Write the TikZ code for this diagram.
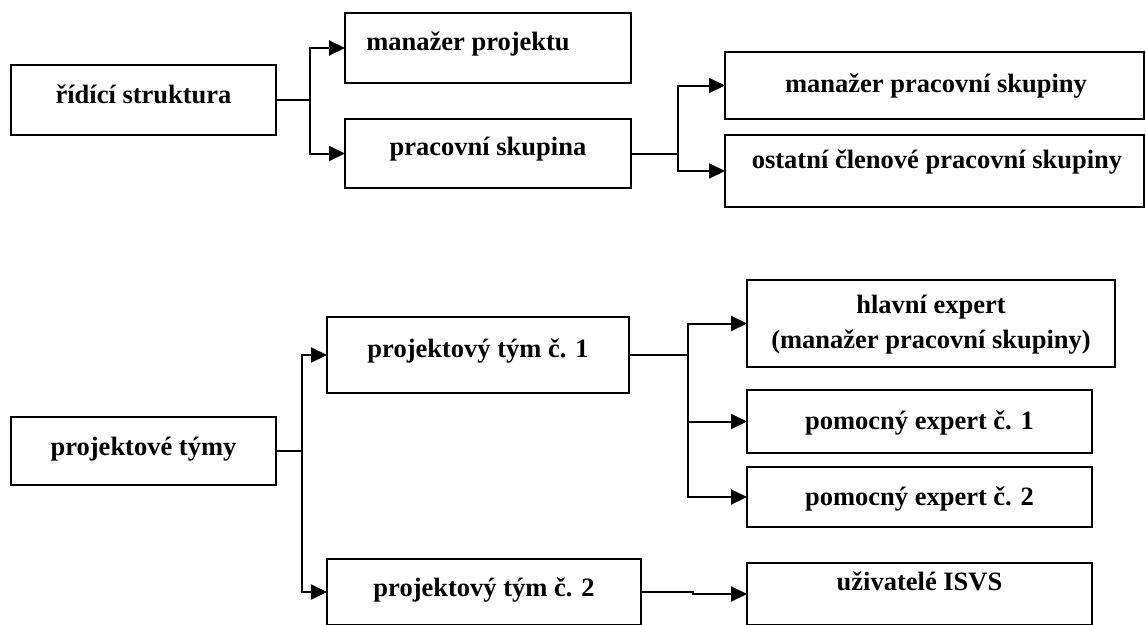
\documentclass[tikz,border=0pt]{standalone}
\usepackage{fontspec}
\setmainfont{Liberation Serif}
\usetikzlibrary{arrows.meta}
\begin{document}
\begin{tikzpicture}[x=1pt,y=-1pt,
  box/.style={draw=black, line width=2pt, inner sep=0pt, outer sep=0pt, rectangle},
  lbl/.style={inner sep=0pt, font=\bfseries\fontsize{26.5}{35}\selectfont, align=center, anchor=base},
  conn/.style={line width=2pt},
  arr/.style={conn, -{Triangle[length=16pt,width=15pt]}}]
\useasboundingbox (0,0) rectangle (1146,624);
\clip (0,0) rectangle (1146,624);

% upper tree: steering structure
\node[box, minimum width=265pt, minimum height=70pt] (ridici) at (143.5,100) {};
\node[box, minimum width=286pt, minimum height=70pt] (manproj) at (488,48) {};
\node[box, minimum width=286pt, minimum height=69pt] (pracsk) at (488,153.5) {};
\node[box, minimum width=419pt, minimum height=67pt] (manprac) at (934.5,85.5) {};
\node[box, minimum width=419pt, minimum height=72pt] (ostatni) at (934.5,171) {};

\node[lbl] (tridici) at (143.5,103) {řídící struktura};
\node[lbl] (tmanproj) at (468,50) {manažer projektu};
\node[lbl] (tpracsk) at (488,155) {pracovní skupina};
\node[lbl] (tmanprac) at (936,92) {manažer pracovní skupiny};
\node[lbl] (tostatni) at (937,168) {ostatní členové pracovní skupiny};

\coordinate (s1) at (310,100);
\coordinate (s2) at (678,153.5);
\draw[conn] (ridici.east) -- (s1);
\draw[arr] (s1) |- (manproj.west);
\draw[arr] (s1) |- (pracsk.west);
\draw[conn] (pracsk.east) -- (s2);
\draw[arr] (s2) |- (manprac.west);
\draw[arr] (s2) |- (ostatni.west);

% lower tree: project teams
\node[box, minimum width=265pt, minimum height=68pt] (tymy) at (143.5,451) {};
\node[box, minimum width=302pt, minimum height=76pt] (tym1) at (478,355) {};
\node[box, minimum width=314pt, minimum height=66pt] (tym2) at (484,592) {};
\node[box, minimum width=368pt, minimum height=87pt] (hlavni) at (931,323.5) {};
\node[box, minimum width=345pt, minimum height=63pt] (pom1) at (919.5,421.5) {};
\node[box, minimum width=345pt, minimum height=60pt] (pom2) at (919.5,497) {};
\node[box, minimum width=345pt, minimum height=62pt] (uziv) at (919.5,594) {};

\node[lbl] (ttymy) at (143.5,455) {projektové týmy};
\node[lbl] (ttym1) at (478,357) {projektový tým č. 1};
\node[lbl] (ttym2) at (484,596) {projektový tým č. 2};
\node[lbl] (thlavni) at (931,348) {hlavní expert\\(manažer pracovní skupiny)};
\node[lbl] (tpom1) at (919.5,429) {pomocný expert č. 1};
\node[lbl] (tpom2) at (919.5,505) {pomocný expert č. 2};
\node[lbl] (tuziv) at (919.5,590) {uživatelé ISVS};

\coordinate (s3) at (302,451);
\coordinate (s4) at (688,355);
\coordinate (j1) at (693,592);
\coordinate (j2) at (693,594);
\draw[conn] (tymy.east) -- (s3);
\draw[arr] (s3) |- (tym1.west);
\draw[arr] (s3) |- (tym2.west);
\draw[conn] (tym1.east) -- (s4);
\draw[arr] (s4) |- (hlavni.west);
\draw[arr] (s4) |- (pom1.west);
\draw[arr] (s4) |- (pom2.west);
\draw[arr] (tym2.east) -- (j1) -- (j2) -- (uziv.west);
\end{tikzpicture}
\end{document}
